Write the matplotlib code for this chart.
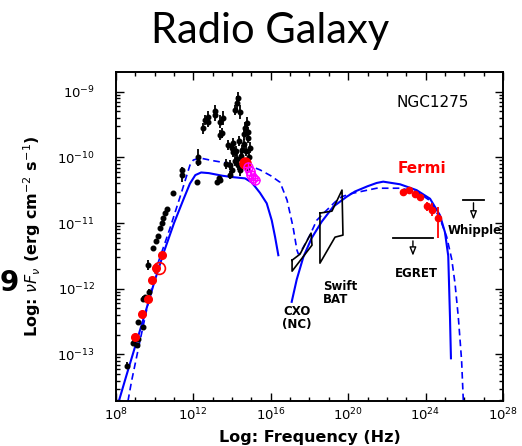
import numpy as np
import matplotlib
matplotlib.use('Agg')
import matplotlib.pyplot as plt
from matplotlib.ticker import FixedLocator, LogFormatterSciNotation, NullFormatter

# ---- data (log10 nu [Hz], log10 nuFnu [erg cm-2 s-1]) ----
black_lognu = [8.57, 8.88, 9.08, 9.15, 9.15, 9.42, 9.42, 9.50, 9.70, 9.65,
               9.91, 10.07, 10.17, 10.27, 10.38, 10.43, 10.53, 10.64, 10.95, 11.41,
               11.41, 12.19, 12.24, 12.24,
               12.50, 12.60, 12.75, 12.75, 13.12, 13.12, 13.37, 13.48, 13.53, 13.37,
               13.32, 13.37, 13.22, 13.79, 13.99, 13.89, 13.89, 14.05, 14.05, 14.15,
               14.25, 14.30, 14.41, 14.30, 14.25, 14.51, 14.67, 14.77, 14.82, 14.82,
               14.56, 14.77, 14.15, 14.45, 14.60, 14.70, 14.40, 14.00, 13.70, 14.90,
               14.85, 14.60, 14.35, 14.20]
black_logf = [-13.17, -12.82, -12.86, -12.76, -12.51, -12.59, -12.15, -12.13, -12.05, -11.64,
              -11.38, -11.28, -11.19, -11.08, -11.00, -10.93, -10.85, -10.79, -10.55, -10.27,
              -10.20, -10.38, -10.00, -10.07,
              -9.56, -9.43, -9.39, -9.46, -9.36, -9.30, -9.46, -9.63, -9.40, -9.66,
              -10.32, -10.35, -10.38, -9.81, -9.86, -10.27, -10.12, -9.92, -9.78, -9.28,
              -9.17, -9.10, -9.31, -10.12, -10.02, -9.89, -9.56, -9.48, -9.62, -9.70,
              -10.07, -10.16, -10.05, -9.98, -9.80, -9.90, -10.20, -10.20, -10.10, -9.85,
              -10.00, -9.65, -9.75, -9.90]
black_err = [0.05, 0.04, 0.04, 0.04, 0.04, 0.04, 0.04, 0.04, 0.04, 0.08,
             0.03, 0.03, 0.03, 0.03, 0.03, 0.03, 0.03, 0.03, 0.04, 0.10,
             0.06, 0.03, 0.12, 0.06,
             0.08, 0.08, 0.10, 0.08, 0.08, 0.10, 0.10, 0.08, 0.10, 0.08,
             0.04, 0.04, 0.04, 0.08, 0.08, 0.06, 0.08, 0.08, 0.08, 0.08,
             0.10, 0.10, 0.10, 0.08, 0.08, 0.08, 0.10, 0.10, 0.08, 0.08,
             0.08, 0.08, 0.08, 0.08, 0.08, 0.08, 0.08, 0.08, 0.08, 0.08,
             0.08, 0.08, 0.08, 0.08]

red_radio_lognu = [8.98, 9.35, 9.65, 9.86, 10.07, 10.38]
red_radio_logf = [-12.74, -12.38, -12.16, -11.87, -11.69, -11.49]
red_big_lognu = [14.67]
red_big_logf = [-10.09]
red_open_lognu = [10.22]
red_open_logf = [-11.69]
magenta_lognu = [14.80, 14.90, 15.00, 15.10, 15.20]
magenta_logf = [-10.15, -10.21, -10.27, -10.32, -10.35]

fermi_lognu = [22.83, 23.14, 23.45, 23.71, 24.07, 24.33, 24.64]
fermi_logf = [-10.53, -10.50, -10.56, -10.60, -10.74, -10.80, -10.93]
fermi_err_lo = [0.03, 0.03, 0.03, 0.04, 0.07, 0.10, 0.30]
fermi_err_hi = [0.03, 0.03, 0.03, 0.04, 0.06, 0.10, 0.17]

# model curves
sync_solid_lognu = [8.15, 8.5, 9.0, 9.5, 10.0, 10.5, 11.0, 11.5, 11.82, 12.1, 12.4, 12.8,
                    13.5, 14.0, 14.67, 15.0, 15.2, 15.44, 15.79, 16.05, 16.22, 16.39]
sync_solid_logf = [-13.71, -13.36, -12.87, -12.38, -11.88, -11.42, -11.0, -10.63, -10.40,
                   -10.27, -10.23, -10.24, -10.28, -10.30, -10.32, -10.38, -10.45, -10.54,
                   -10.70, -10.96, -11.21, -11.49]
ic_solid_lognu = [17.08, 17.34, 17.68, 18.11, 18.63, 19.23, 19.92, 20.35, 21.0, 21.47,
                  21.81, 22.68, 23.54, 24.23, 24.74, 25.0, 25.17, 25.26, 25.31]
ic_solid_logf = [-12.20, -11.86, -11.52, -11.23, -10.98, -10.75, -10.60, -10.52, -10.44,
                 -10.39, -10.37, -10.41, -10.50, -10.63, -10.88, -11.14, -11.50, -12.43,
                 -13.06]
dashed_lognu = [8.62, 8.81, 9.2, 9.6, 10.1, 10.79, 11.4, 11.82, 12.0, 12.34, 13.0, 14.0,
                15.1, 15.44, 16.0, 16.48, 16.84, 17.15, 17.35, 17.42, 17.51, 18.03, 18.37,
                18.8, 19.32, 19.66, 20.18, 21.47, 22.68, 23.54, 24.23, 24.74, 25.09, 25.35,
                25.52, 25.69, 25.86, 25.95]
dashed_logf = [-13.71, -13.40, -12.85, -12.30, -11.67, -11.08, -10.52, -10.12, -10.04,
               -10.01, -10.05, -10.10, -10.15, -10.19, -10.28, -10.38, -10.65, -11.06,
               -11.41, -11.47, -11.46, -11.18, -10.96, -10.83, -10.68, -10.60, -10.55,
               -10.47, -10.47, -10.52, -10.66, -10.93, -11.21, -11.55, -11.92, -12.43,
               -13.09, -13.71]

# bow-ties
cxo_lognu = [17.10, 17.51, 18.08, 18.13, 17.10, 17.10]
cxo_logf = [-11.566, -11.474, -11.154, -11.337, -11.733, -11.566]
bat_lognu = [18.54, 19.16, 19.68, 19.73, 19.32, 18.54, 18.54]
bat_logf = [-10.849, -10.819, -10.498, -11.184, -11.215, -11.611, -10.849]

# upper limits: (lognu_lo, lognu_hi, logf, logf_arrow_end)
egret_ul = [22.31, 24.38, -11.23, -11.54]
whipple_ul = [25.93, 27.02, -10.65, -10.99]


def p(a):
    return 10 ** np.asarray(a, dtype=float)


fig = plt.figure(figsize=(5.22, 4.46), dpi=100)
ax = fig.add_axes([0.2222, 0.1009, 0.7414, 0.7377])

ax.set_xscale('log')
ax.set_yscale('log')
ax.set_xlim(1e8, 1e28)
ax.set_ylim(10 ** -13.71, 10 ** -8.70)

blue = '#0000ff'
ax.plot(p(sync_solid_lognu), p(sync_solid_logf), color=blue, lw=1.5)
ax.plot(p(ic_solid_lognu), p(ic_solid_logf), color=blue, lw=1.5)
ax.plot(p(dashed_lognu), p(dashed_logf), color=blue, lw=1.2, ls=(0, (4, 2.5)))

ax.plot(p(cxo_lognu), p(cxo_logf), color='k', lw=1.2)
ax.plot(p(bat_lognu), p(bat_logf), color='k', lw=1.2)

# black data with errors
bf = np.asarray(black_logf)
be = np.asarray(black_err)
yerr = [p(bf) - p(bf - be), p(bf + be) - p(bf)]
ax.errorbar(p(black_lognu), p(bf), yerr=yerr, fmt='o', ms=3.3, color='k',
            elinewidth=1.3, capsize=0, zorder=3)

ax.plot(p(red_radio_lognu), p(red_radio_logf), 'o', ms=5.5, color='#ff0000', zorder=4)
ax.plot(p(red_big_lognu), p(red_big_logf), 'o', ms=8, color='#ff0000', zorder=4)
ax.plot(p(red_open_lognu), p(red_open_logf), 'o', ms=8.5, mfc='none', mec='#ff0000',
        mew=1.2, zorder=4)
ax.plot(p(magenta_lognu), p(magenta_logf), 'o', ms=6.5, mfc='none', mec='#ff00ff',
        mew=1.0, zorder=4)
ax.plot(p(magenta_lognu), p(magenta_logf), '+', ms=6.5, color='#ff00ff', mew=1.0, zorder=4)

ff = np.asarray(fermi_logf)
ferr = [p(ff) - p(ff - np.asarray(fermi_err_lo)), p(ff + np.asarray(fermi_err_hi)) - p(ff)]
ax.errorbar(p(fermi_lognu), p(ff), yerr=ferr, fmt='o', ms=4.5, color='#ff0000',
            elinewidth=1.3, capsize=0, zorder=4)

# upper limits
for ul in [egret_ul, whipple_ul]:
    ax.plot(p(ul[:2]), p([ul[2], ul[2]]), color='k', lw=1.3)
    xm = 10 ** ((ul[0] + ul[1]) / 2)
    ax.annotate('', xy=(xm, 10 ** ul[3]), xytext=(xm, 10 ** ul[2]),
                arrowprops=dict(arrowstyle='-|>,head_length=0.5,head_width=0.2',
                                fc='white', ec='k', lw=1.0))

# labels inside plot
ax.text(10 ** 24.38, 10 ** -9.17, 'NGC1275', fontsize=11, ha='center', va='center')
ax.text(10 ** 23.81, 10 ** -10.17, 'Fermi', fontsize=11, color='#ff0000',
        fontweight='bold', ha='center', va='center')
ax.text(10 ** 26.55, 10 ** -11.11, 'Whipple', fontsize=8.5, fontweight='bold',
        ha='center', va='center')
ax.text(10 ** 23.5, 10 ** -11.77, 'EGRET', fontsize=8.5, fontweight='bold',
        ha='center', va='center')
ax.text(10 ** 18.7, 10 ** -12.06, 'Swift\nBAT', fontsize=8.5, fontweight='bold',
        ha='left', va='center', linespacing=1.0)
ax.text(10 ** 17.35, 10 ** -12.45, 'CXO\n(NC)', fontsize=8.5, fontweight='bold',
        ha='center', va='center', linespacing=1.0)

# ticks
ax.xaxis.set_major_locator(FixedLocator(10.0 ** np.arange(8, 29, 4)))
ax.xaxis.set_minor_locator(FixedLocator(10.0 ** np.arange(8, 29, 1)))
ax.xaxis.set_major_formatter(LogFormatterSciNotation())
ax.xaxis.set_minor_formatter(NullFormatter())
ax.yaxis.set_major_locator(FixedLocator(10.0 ** np.arange(-13, -8)))
ax.yaxis.set_minor_locator(FixedLocator([m * 10.0 ** e for e in range(-14, -8) for m in range(2, 10)]))
ax.yaxis.set_major_formatter(LogFormatterSciNotation())
ax.yaxis.set_minor_formatter(NullFormatter())
ax.tick_params(which='both', direction='in', top=True, right=True, width=1.0)
ax.tick_params(which='major', length=6, labelsize=9.5)
ax.tick_params(which='minor', length=3)
ax.tick_params(axis='x', which='major', pad=4)
ax.tick_params(axis='y', which='major', pad=15)
for s in ax.spines.values():
    s.set_linewidth(1.4)

ax.set_xlabel('Log: Frequency (Hz)', fontsize=11.5, fontweight='bold', labelpad=5)
ax.set_ylabel(r'Log: $\nu F_\nu$ (erg cm$^{-2}$ s$^{-1}$)', fontsize=11.5,
              fontweight='bold', labelpad=10)

fig.text(0.517, 0.93, 'Radio Galaxy', fontsize=30, family='Lato', ha='center', va='center')
fig.text(0.0, 0.365, '9', fontsize=20, fontweight='bold', ha='left', va='center')

fig.savefig('out.png', dpi=100)
